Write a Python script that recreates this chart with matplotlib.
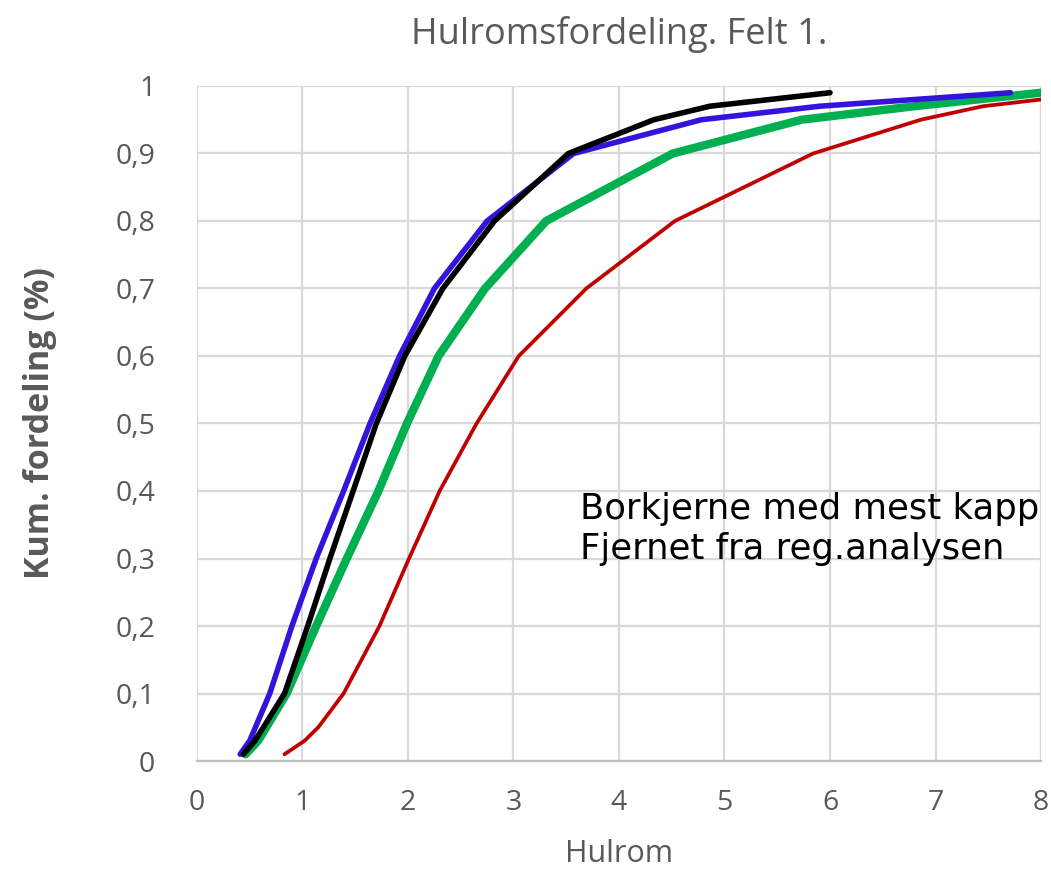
import matplotlib

matplotlib.use("Agg")
import matplotlib.pyplot as plt
from matplotlib.ticker import FuncFormatter

plt.rcParams["font.family"] = ["Open Sans", "DejaVu Sans"]

# cumulative distribution per series (x = hulrom, y = kum. fordeling)
black_x = [0.44, 0.55, 0.83, 1.05, 1.26, 1.48, 1.70, 1.97, 2.33, 2.82, 3.52, 4.33, 4.86, 6.0]
black_y = [0.01, 0.03, 0.10, 0.20, 0.30, 0.40, 0.50, 0.60, 0.70, 0.80, 0.90, 0.95, 0.97, 0.99]

blue_x = [0.41, 0.50, 0.69, 0.90, 1.13, 1.39, 1.64, 1.92, 2.25, 2.75, 3.57, 4.78, 5.9, 7.71]
blue_y = [0.01, 0.03, 0.10, 0.20, 0.30, 0.40, 0.50, 0.60, 0.70, 0.80, 0.90, 0.95, 0.97, 0.99]

green_x = [0.46, 0.58, 0.85, 1.13, 1.42, 1.72, 1.99, 2.29, 2.73, 3.31, 4.51, 5.73, 6.8, 8.0]
green_y = [0.01, 0.03, 0.10, 0.20, 0.30, 0.40, 0.50, 0.60, 0.70, 0.80, 0.90, 0.95, 0.97, 0.99]

red_x = [0.83, 1.02, 1.15, 1.39, 1.73, 2.01, 2.30, 2.65, 3.05, 3.69, 4.53, 5.84, 6.86, 7.45, 8.0]
red_y = [0.01, 0.03, 0.05, 0.10, 0.20, 0.30, 0.40, 0.50, 0.60, 0.70, 0.80, 0.90, 0.95, 0.97, 0.98]

x_ticks = [0, 1, 2, 3, 4, 5, 6, 7, 8]
y_ticks = [0, 0.1, 0.2, 0.3, 0.4, 0.5, 0.6, 0.7, 0.8, 0.9, 1.0]

grey = "#595959"

fg = plt.figure(figsize=(10.51, 8.81), dpi=100)
ax = fg.add_axes([0.1874, 0.1362, 0.8031, 0.7662])

ax.plot(red_x, red_y, color="#C00000", lw=2.7, solid_capstyle="round", zorder=3)
ax.plot(green_x, green_y, color="#00B050", lw=6.0, solid_capstyle="round", zorder=4)
ax.plot(blue_x, blue_y, color="#3414DC", lw=4.0, solid_capstyle="round", zorder=5)
ax.plot(black_x, black_y, color="black", lw=4.0, solid_capstyle="round", zorder=6)

ax.set_xlim(0, 8)
ax.set_ylim(0, 1)
ax.set_xticks(x_ticks)
ax.set_yticks(y_ticks)
ax.yaxis.set_major_formatter(
    FuncFormatter(lambda v, p: "%g" % round(v, 1) if v in (0, 1) else ("%.1f" % v).replace(".", ","))
)
ax.tick_params(length=0, labelsize=20.5, labelcolor=grey)
ax.tick_params(axis="y", pad=30)
ax.tick_params(axis="x", pad=20)
ax.grid(color="#d9d9d9", lw=1.6)
ax.set_axisbelow(True)
for s in ["top", "right", "left"]:
    ax.spines[s].set_visible(False)
ax.spines["bottom"].set_color("#bfbfbf")
ax.spines["bottom"].set_linewidth(1.6)

ax.set_xlabel("Hulrom", fontsize=22, color=grey, labelpad=16)
ax.set_ylabel("Kum. fordeling (%)", fontsize=24.5, color=grey, fontweight="bold", labelpad=42)
ax.set_title("Hulromsfordeling. Felt 1.", fontsize=26, color=grey, pad=30)

ax.text(
    3.63, 0.30, "Borkjerne med mest kapp\nFjernet fra reg.analysen",
    fontsize=25.5, color="black", linespacing=1.2, va="baseline",
    family="DejaVu Sans",
)

fg.savefig("out.png", dpi=100)
plt.close(fg)
